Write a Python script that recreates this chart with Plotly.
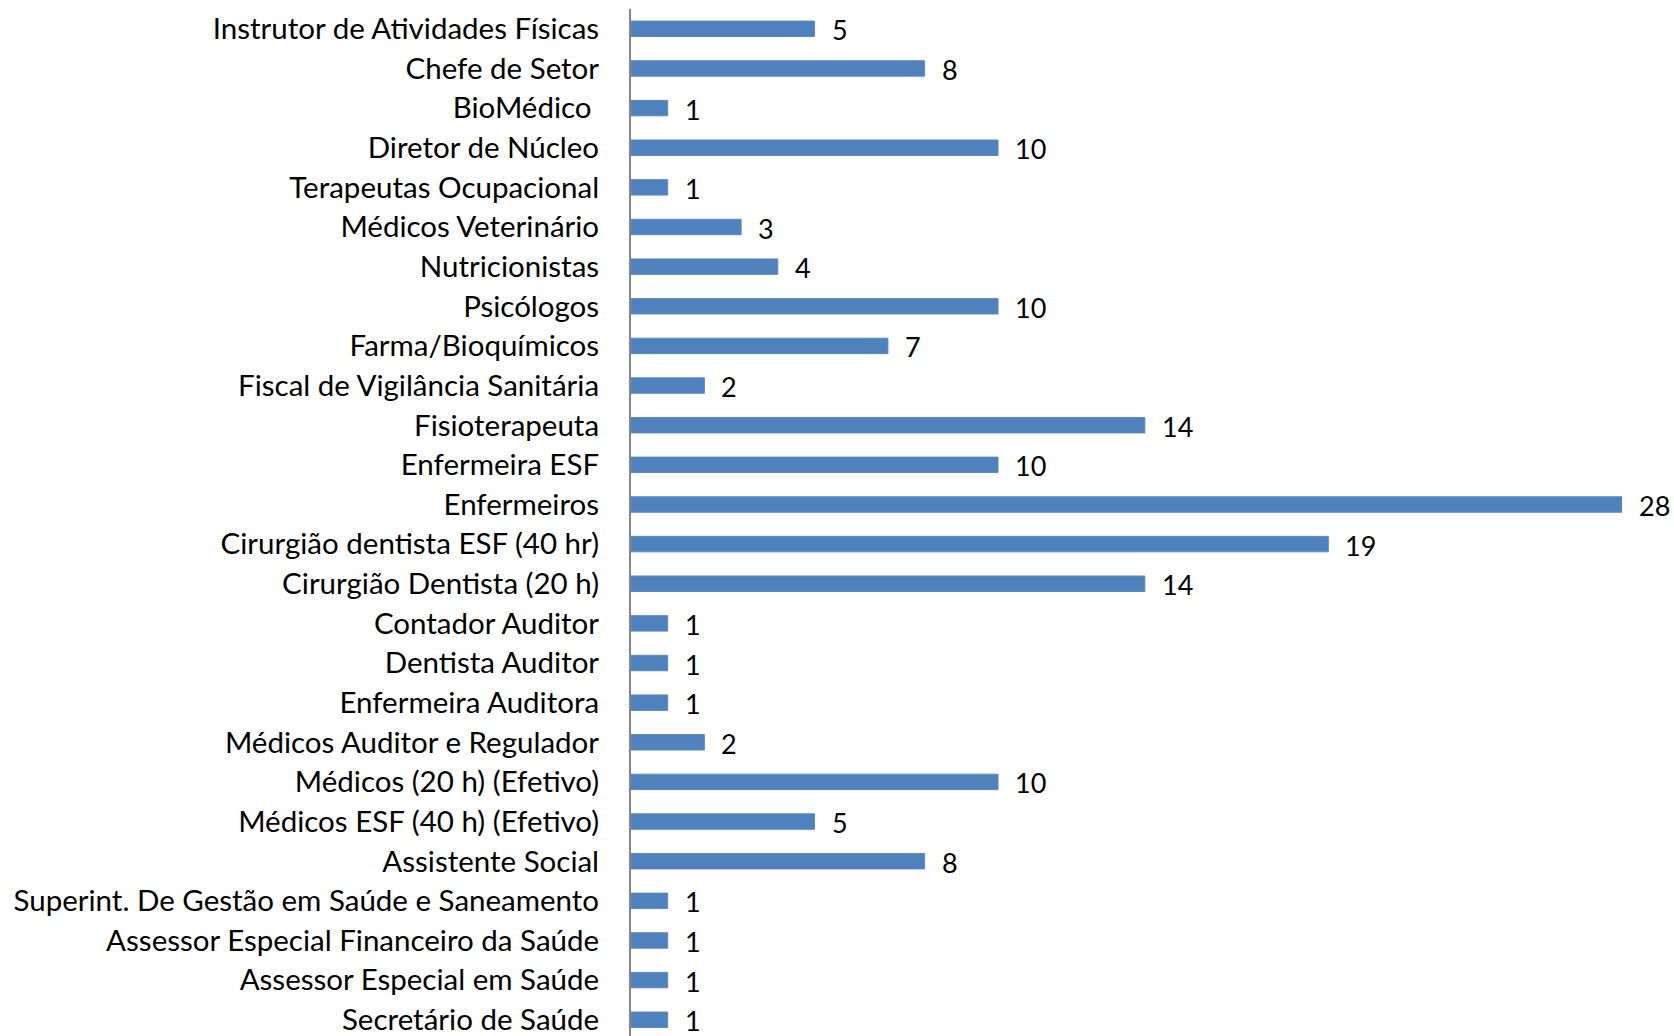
import plotly.graph_objects as go

# categories top to bottom, as in the picture
cargos = [
    "Instrutor de Atividades Físicas",
    "Chefe de Setor",
    "BioMédico\u00a0",
    "Diretor de Núcleo",
    "Terapeutas Ocupacional",
    "Médicos Veterinário",
    "Nutricionistas",
    "Psicólogos",
    "Farma/Bioquímicos",
    "Fiscal de Vigilância Sanitária",
    "Fisioterapeuta",
    "Enfermeira ESF",
    "Enfermeiros",
    "Cirurgião dentista ESF (40 hr)",
    "Cirurgião Dentista (20 h)",
    "Contador Auditor",
    "Dentista Auditor",
    "Enfermeira Auditora",
    "Médicos Auditor e Regulador",
    "Médicos (20 h) (Efetivo)",
    "Médicos ESF (40 h) (Efetivo)",
    "Assistente Social",
    "Superint. De Gestão em Saúde e Saneamento",
    "Assessor Especial Financeiro da Saúde",
    "Assessor Especial em Saúde",
    "Secretário de Saúde",
]
quantidade = [5, 8, 1, 10, 1, 3, 4, 10, 7, 2, 14, 10, 28, 19, 14,
              1, 1, 1, 2, 10, 5, 8, 1, 1, 1, 1]

# the original chart has its axis maximum fixed at 27, so the 28 bar is cut
eixo_max = 27

fonte = "Lato"

fig = go.Figure()
fig.add_trace(go.Bar(
    x=quantidade, y=cargos,
    orientation="h",
    width=0.39,
    marker=dict(color="#4F81BD", line=dict(color="#5B8AC2", width=1)),
    cliponaxis=True,
))

# data labels just after the visible end of each bar
for cargo, v in zip(cargos, quantidade):
    fig.add_annotation(
        x=min(v, eixo_max), y=cargo,
        text=str(v), showarrow=False,
        xanchor="left", xshift=15, yshift=-1,
        font=dict(family=fonte, size=27, color="#000000"),
    )

fig.update_layout(
    width=1674, height=1036,
    margin=dict(l=631, r=52, t=9, b=0, autoexpand=False),
    plot_bgcolor="white",
    paper_bgcolor="white",
    showlegend=False,
)
fig.update_xaxes(
    range=[0, eixo_max], visible=False, showgrid=False, zeroline=False,
)
fig.update_yaxes(
    range=[25.41, -0.5],
    showline=True, linecolor="#868686", linewidth=2,
    showgrid=False, zeroline=False,
    ticks="", ticklabelstandoff=24,
    tickfont=dict(family=fonte, size=29.5, color="#000000"),
    automargin=False,
)

# drop the browser's default page margin so the figure fills the window
fig.write_html(
    "out.html",
    config={"displayModeBar": False},
    post_script="document.body.style.margin='0px';"
                "document.body.style.overflow='hidden';",
)
